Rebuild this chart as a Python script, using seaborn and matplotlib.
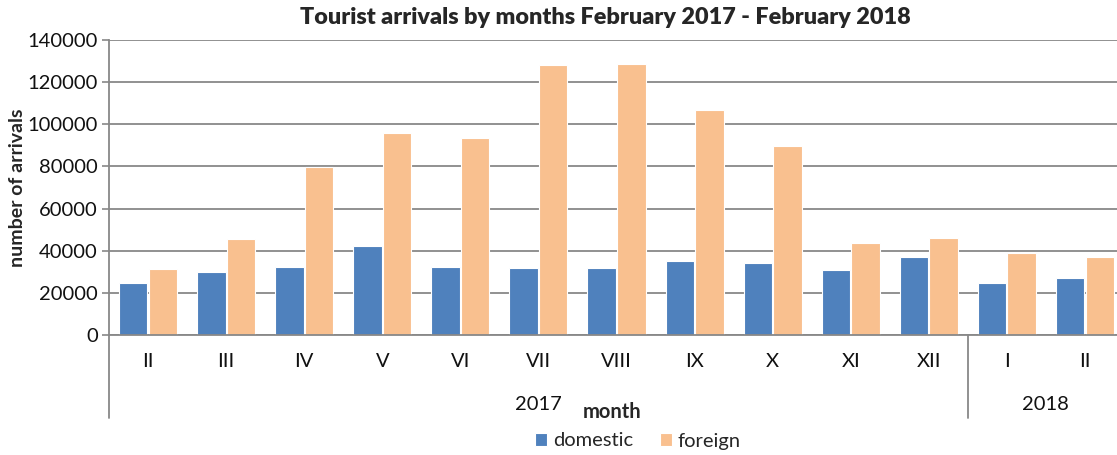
import matplotlib
matplotlib.use("Agg")
import matplotlib.pyplot as plt
import seaborn as sns
import pandas as pd

months = ["II", "III", "IV", "V", "VI", "VII", "VIII", "IX", "X", "XI", "XII", "I", "II"]
years = ["2017"] * 11 + ["2018"] * 2
domestic = [24800, 29900, 32300, 42100, 32300, 32000, 32000, 35100, 34200, 30800, 37000, 24700, 27100]
foreign = [31200, 45600, 79700, 95900, 93300, 128300, 128800, 106600, 89700, 43700, 45900, 39000, 37200]
series = ["domestic", "foreign"]
colors = ["#4F81BD", "#F9C08F"]
yticks = [0, 20000, 40000, 60000, 80000, 100000, 120000, 140000]

keys = [f"{y}-{i:02d}-{m}" for i, (y, m) in enumerate(zip(years, months))]
df = pd.DataFrame({
    "key": keys * 2,
    "value": domestic + foreign,
    "series": [series[0]] * len(keys) + [series[1]] * len(keys),
})

sns.set_theme(style="white")
plt.rcParams["font.family"] = ["Lato", "DejaVu Sans"]

fig = plt.figure(figsize=(11.17, 4.55), dpi=100)
ax = fig.add_axes([109 / 1117, 120 / 455, 1015 / 1117, 295 / 455])

sns.barplot(data=df, x="key", y="value", hue="series", order=keys, hue_order=series,
            palette=colors, saturation=1, width=0.76, gap=0.04, edgecolor="white", linewidth=0.8,
            ax=ax, legend=True)

FS = 14.5
ax.set_ylim(0, 140000)
ax.set_xlim(-0.5, len(keys) - 0.5)
ax.set_yticks(yticks)
ax.set_yticklabels([str(v) for v in yticks], fontsize=FS, color="#111111")
ax.set_xticks(range(len(keys)))
ax.set_xticklabels(months, fontsize=FS, color="#111111")
ax.tick_params(axis="x", length=0, pad=13)
ax.tick_params(axis="y", length=5, width=1.2, color="#888888", direction="out", pad=3, left=True)
ax.yaxis.grid(True, color="#888888", linewidth=1.3)
ax.set_axisbelow(True)
for s in ["top", "right"]:
    ax.spines[s].set_visible(False)
for s in ["left", "bottom"]:
    ax.spines[s].set_color("#888888")
    ax.spines[s].set_linewidth(1.3)

ax.set_xlabel("")
ax.set_ylabel("number of arrivals", fontsize=14, fontweight="bold")
ax.yaxis.set_label_coords(-0.082, 0.5)

trans = ax.get_xaxis_transform()
for xpos in [-0.5, 10.5]:
    ax.plot([xpos, xpos], [0, -0.281], transform=trans, color="#888888", lw=1.3, clip_on=False)
ax.text(5.0, -0.237, "2017", transform=trans, ha="center", va="center", fontsize=FS, color="#111111")
ax.text(11.5, -0.237, "2018", transform=trans, ha="center", va="center", fontsize=FS, color="#111111")

fig.text(612 / 1117, 1 - 412 / 455, "month", ha="center", va="center", fontsize=FS, fontweight="bold")
fig.text(605 / 1117, 1 - 17 / 455, "Tourist arrivals by months February 2017 - February 2018",
         ha="center", va="center", fontsize=16.8, fontweight="heavy")

handles, labels = ax.get_legend_handles_labels()
ax.get_legend().remove()
fig.legend(handles, labels, loc="center", bbox_to_anchor=(638 / 1117, 1 - 441 / 455), ncol=2,
           frameon=False, fontsize=FS, handlelength=0.6, handleheight=0.6, handletextpad=0.3,
           columnspacing=1.3)

fig.savefig("out.png", dpi=100)
